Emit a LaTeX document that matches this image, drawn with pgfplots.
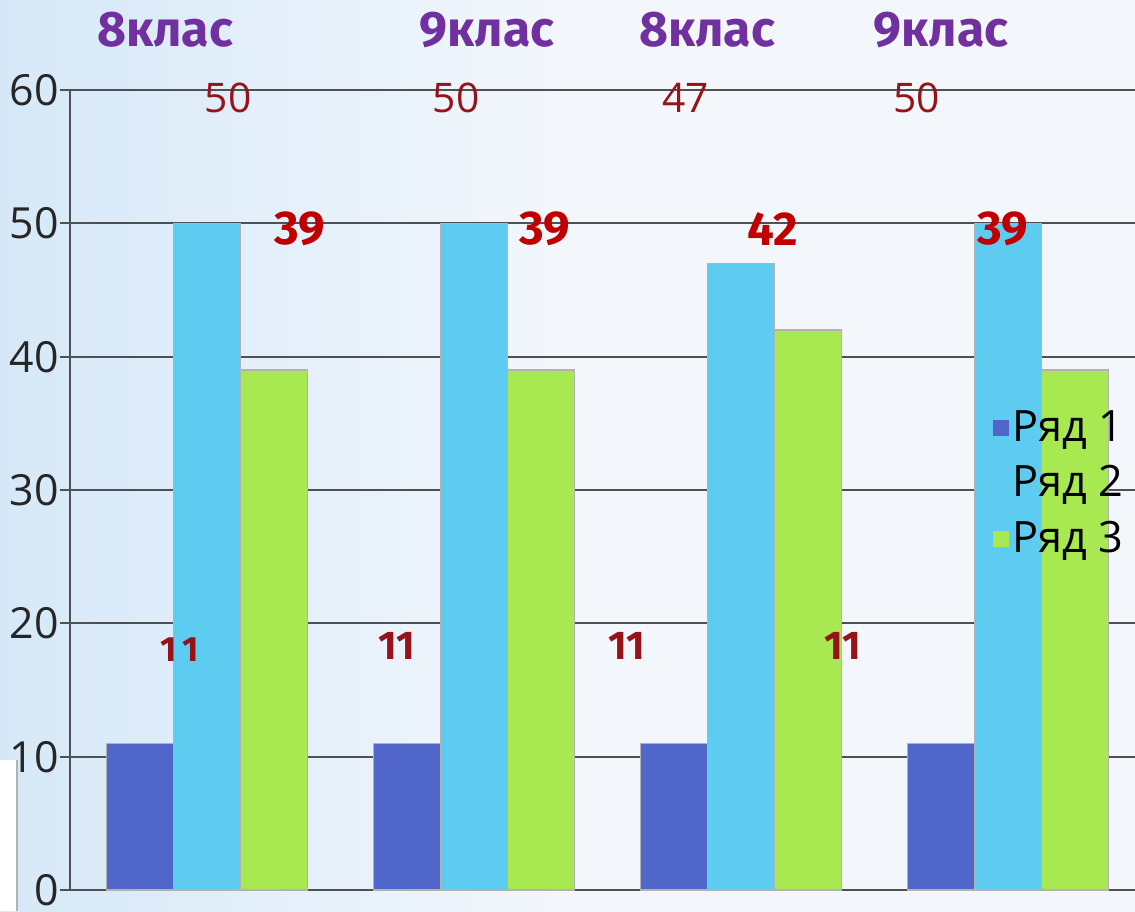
\documentclass[border=0pt]{standalone}
\usepackage{pgfplots}
\pgfplotsset{compat=1.18}
\usepackage{fontspec}
\setmainfont{Open Sans}
\newfontfamily\fira{Fira Sans}
\definecolor{bgc}{RGB}{243,247,252}
\definecolor{bgblue}{RGB}{214,232,248}
\definecolor{cA}{RGB}{80,102,200}
\definecolor{cB}{RGB}{94,203,241}
\definecolor{cC}{RGB}{168,232,80}
\definecolor{gridc}{RGB}{80,80,80}
\definecolor{purp}{RGB}{112,48,160}
\definecolor{dred}{RGB}{150,20,25}
\definecolor{bred}{RGB}{192,0,0}
\begin{document}
\begin{tikzpicture}
\useasboundingbox (0,0) rectangle (11.35cm,9.11cm);
\shade[left color=bgblue,right color=bgc,middle color=bgc] (0,0) rectangle (11.35cm,9.11cm);
\fill[white] (0,0) rectangle (0.17cm,1.51cm);
\draw[gray!60,line width=0.3pt] (0.17cm,0)--(0.17cm,1.51cm);
\begin{axis}[
  at={(0.70cm,0.21cm)}, anchor=south west,
  scale only axis, width=10.65cm, height=8.0cm,
  xmin=-0.513, xmax=3.476, ymin=0, ymax=60,
  ybar=0pt, bar width=0.67cm,
  xtick=\empty, ytick={0,10,...,60},
  axis x line=bottom, axis y line=left,
  axis line style={-, draw=gridc, line width=0.65pt},
  ymajorgrids, grid style={draw=gridc, line width=0.65pt},
  tick align=outside, major tick length=0.1cm,
  tick style={draw=gridc, line width=0.65pt},
  /pgf/number format/assume math mode=true,
  yticklabel style={font=\fontsize{12.2}{14}\selectfont, text=black!85, xshift=0.11cm},
  clip=false,
  legend style={draw=none, fill=none, inner sep=0pt, outer sep=0pt,
    at={(axis description cs:0.8667,0.604)}, anchor=north west,
    font=\fontsize{12.3}{14}\selectfont, row sep=0.12cm,
    nodes={inner sep=1pt}},
  legend cell align=left,
  legend image code/.code={\fill[#1,draw=none] (0cm,-0.075cm) rectangle (0.16cm,0.085cm);},
]
\addplot[fill=cA, draw=gray!60, line width=0.4pt] coordinates {(0,11) (1,11) (2,11) (3,11)};
\addplot[fill=cB, draw=gray!60, line width=0.4pt] coordinates {(0,50) (1,50) (2,47) (3,50)};
\addplot[fill=cC, draw=gray!60, line width=0.4pt] coordinates {(0,39) (1,39) (2,42) (3,39)};
\legend{Ряд 1, Ряд 2, Ряд 3}
% class labels
\node[text=purp, font=\fira\bfseries\fontsize{14.2}{16}\selectfont] at (axis cs:-0.157,64.5) {8клас};
\node[text=purp, font=\fira\bfseries\fontsize{14.2}{16}\selectfont] at (axis cs:1.049,64.5) {9клас};
\node[text=purp, font=\fira\bfseries\fontsize{14.2}{16}\selectfont] at (axis cs:1.873,64.5) {8клас};
\node[text=purp, font=\fira\bfseries\fontsize{14.2}{16}\selectfont] at (axis cs:2.749,64.5) {9клас};
% value labels
\node[text=dred, font=\fontsize{11.6}{13}\selectfont] at (axis cs:0.079,59.4) {50};
\node[text=dred, font=\fontsize{11.6}{13}\selectfont] at (axis cs:0.933,59.4) {50};
\node[text=dred, font=\fontsize{11.6}{13}\selectfont] at (axis cs:1.794,59.4) {47};
\node[text=dred, font=\fontsize{11.6}{13}\selectfont] at (axis cs:2.659,59.4) {50};
\node[text=bred, font=\fira\bfseries\fontsize{13.5}{15}\selectfont] at (axis cs:0.348,49.6) {39};
\node[text=bred, font=\fira\bfseries\fontsize{13.5}{15}\selectfont] at (axis cs:1.266,49.6) {39};
\node[text=bred, font=\fira\bfseries\fontsize{13.5}{15}\selectfont] at (axis cs:2.120,49.6) {42};
\node[text=bred, font=\fira\bfseries\fontsize{13.5}{15}\selectfont] at (axis cs:2.981,49.6) {39};
\node[text=dred, font=\fira\bfseries\fontsize{10}{12}\selectfont] at (axis cs:-0.101,18.0) {1\,1};
\node[text=dred, font=\fira\bfseries\fontsize{11.4}{13}\selectfont] at (axis cs:0.712,18.3) {11};
\node[text=dred, font=\fira\bfseries\fontsize{11.4}{13}\selectfont] at (axis cs:1.573,18.3) {11};
\node[text=dred, font=\fira\bfseries\fontsize{11.4}{13}\selectfont] at (axis cs:2.382,18.3) {11};
\end{axis}
\end{tikzpicture}
\end{document}
